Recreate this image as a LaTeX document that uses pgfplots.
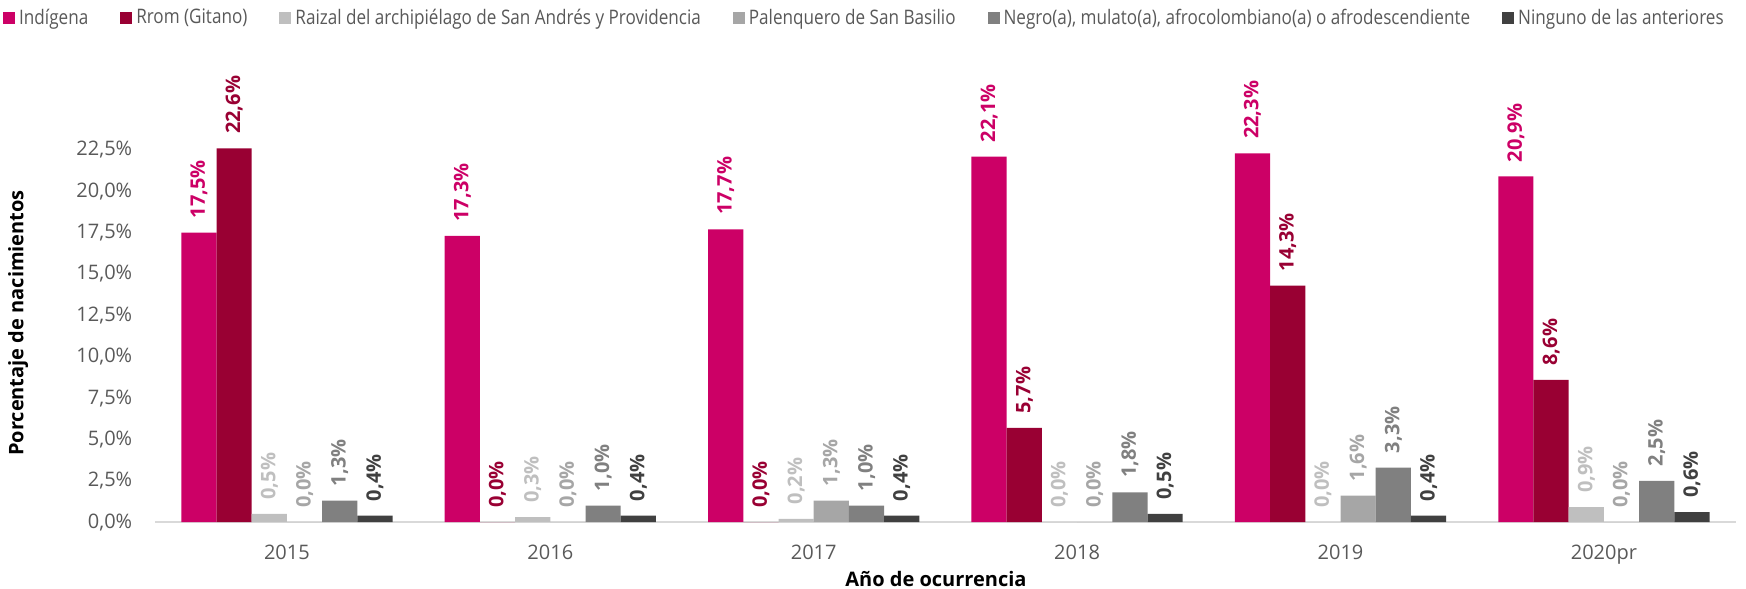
\documentclass[border=0pt]{standalone}
\usepackage{pgfplots}
\pgfplotsset{compat=1.18}
\usepackage{fontspec}
\setmainfont{Open Sans}
\newfontfamily\legfont[FakeStretch=0.855]{Open Sans}
\definecolor{cInd}{HTML}{CC0066}
\definecolor{cRrom}{HTML}{990033}
\definecolor{cRai}{HTML}{BFBFBF}
\definecolor{cPal}{HTML}{A6A6A6}
\definecolor{cNeg}{HTML}{808080}
\definecolor{cNin}{HTML}{404040}
\definecolor{txt}{HTML}{595959}
\newcommand{\lsp}{\hspace*{14pt}}
\begin{document}
\begin{tikzpicture}
\begin{axis}[
  scale only axis,
  width=790pt, height=231.5pt,
  ybar=0pt, bar width=17.6pt,
  xmin=-0.5, xmax=5.5,
  ymin=0, ymax=28,
  xtick={0,1,2,3,4,5},
  xticklabels={2015,2016,2017,2018,2019,2020pr},
  ytick={0,2.5,5,7.5,10,12.5,15,17.5,20,22.5},
  yticklabel={\pgfmathprintnumber[fixed,fixed zerofill,precision=1,use comma]{\tick}\%},
  /pgf/number format/assume math mode=true,
  tick label style={font=\fontsize{10}{12}\selectfont, text=txt},
  yticklabel style={xshift=-8pt},
  xticklabel style={yshift=-8pt},
  major tick length=0pt,
  axis x line*=bottom,
  axis y line*=left,
  y axis line style={draw=none},
  x axis line style={draw=black!15, line width=1pt},
  xlabel={\textbf{Año de ocurrencia}},
  ylabel={\textbf{Porcentaje de nacimientos}},
  label style={font=\fontsize{10}{12}\selectfont, text=txt},
  every axis x label/.style={at={(axis description cs:0.494,0)}, anchor=center, yshift=-28.5pt},
  every axis y label/.style={at={(axis description cs:0,0.43)}, xshift=-68.5pt, rotate=90, anchor=center},
  nodes near coords={\pgfmathprintnumber[fixed,fixed zerofill,precision=1,use comma]{\pgfplotspointmeta}\%},
  every node near coord/.append style={rotate=90, anchor=west, font=\bfseries\fontsize{10}{12}\selectfont, inner xsep=7pt, inner ysep=2pt},
  legend style={at={(axis description cs:0,1)}, anchor=west, xshift=-76pt, yshift=20.5pt, draw=none, legend columns=-1,
    font=\legfont\fontsize{10}{12}\selectfont, text=txt, inner xsep=0pt, outer sep=0pt},
  legend image code/.code={\fill[#1,draw=none] (0pt,-3pt) rectangle (6pt,3pt);},
  legend cell align=left,
]
\addplot[fill=cInd, draw=none, every node near coord/.append style={text=cInd}] coordinates {(0,17.5) (1,17.3) (2,17.7) (3,22.1) (4,22.3) (5,20.9)};
\addplot[fill=cRrom, draw=none, every node near coord/.append style={text=cRrom}] coordinates {(0,22.6) (1,0.0) (2,0.0) (3,5.7) (4,14.3) (5,8.6)};
\addplot[fill=cRai, draw=none, every node near coord/.append style={text=cRai}] coordinates {(0,0.5) (1,0.3) (2,0.2) (3,0.0) (4,0.0) (5,0.9)};
\addplot[fill=cPal, draw=none, every node near coord/.append style={text=cPal}] coordinates {(0,0.0) (1,0.0) (2,1.3) (3,0.0) (4,1.6) (5,0.0)};
\addplot[fill=cNeg, draw=none, every node near coord/.append style={text=cNeg}] coordinates {(0,1.3) (1,1.0) (2,1.0) (3,1.8) (4,3.3) (5,2.5)};
\addplot[fill=cNin, draw=none, every node near coord/.append style={text=cNin}] coordinates {(0,0.4) (1,0.4) (2,0.4) (3,0.5) (4,0.4) (5,0.6)};
\legend{Indígena\lsp, Rrom (Gitano)\lsp, Raizal del archipiélago de San Andrés y Providencia\lsp, Palenquero de San Basilio\lsp, {Negro(a), mulato(a), afrocolombiano(a) o afrodescendiente\lsp}, Ninguno de las anteriores}
\coordinate (A) at (rel axis cs:0,0);
\end{axis}
\pgfresetboundingbox
\path (A) ++(-77.6pt,-33pt) rectangle ++(872.8pt,294pt);
\end{tikzpicture}
\end{document}
